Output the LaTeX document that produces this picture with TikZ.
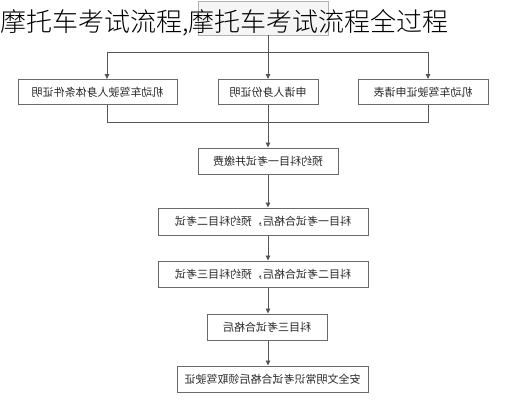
\documentclass[tikz,border=0pt]{standalone}
\usepackage{fontspec}
\usepackage{graphicx}
\setmainfont{Noto Sans CJK SC}
\newfontfamily\titlefont{Noto Sans CJK SC Light}
\usetikzlibrary{arrows.meta}
\definecolor{linegray}{HTML}{555555}
\definecolor{boxgray}{HTML}{6A6A6A}
\definecolor{txtgray}{HTML}{2A2A2A}
\tikzset{
  stepbox/.style={draw=boxgray,line width=1pt,inner sep=0pt,minimum height=25pt,
    text=txtgray,font=\fontsize{11}{13}\selectfont},
  link/.style={draw=linegray,line width=0.9pt},
  arr/.style={link,-{Triangle[length=5pt,width=4.5pt]}}
}
\newcommand{\mir}[1]{\reflectbox{#1}}
\begin{document}
\begin{tikzpicture}[x=1pt,y=-1pt]
\useasboundingbox[fill=white](0,0) rectangle (512,400);
% boxes
\node[draw=gray!60,fill=gray!8,line width=0.8pt,minimum width=130pt,minimum height=34pt] (top) at (263,18) {};
\node[stepbox,minimum width=159pt] (body) at (97.5,92) {\mir{机动车驾驶人身体条件证明}};
\node[stepbox,minimum width=100pt] (idcard) at (268,92) {\mir{申请人身份证明}};
\node[stepbox,minimum width=130pt] (form) at (423,92) {\mir{机动车驾驶证申请表}};
\node[stepbox,minimum width=140pt,minimum height=26pt] (one) at (268,161) {\mir{预约科目一考试并缴费}};
\node[stepbox,minimum width=210pt,minimum height=27pt] (two) at (263,221.5) {\mir{科目一考试合格后，预约科目二考试}};
\node[stepbox,minimum width=210pt,minimum height=26pt] (three) at (263,274) {\mir{科目二考试合格后，预约科目三考试}};
\node[stepbox,minimum width=120pt,minimum height=26pt] (pass) at (267,327) {\mir{科目三考试合格后}};
\node[stepbox,minimum width=191pt,minimum height=26pt] (licence) at (272.5,379) {\mir{安全文明常识考试合格后领取驾驶证}};
% connectors
\coordinate (spine) at (268,0);
\coordinate (bl) at (107,52);
\coordinate (br) at (428,52);
\coordinate (jl) at (107,122);
\coordinate (jr) at (428,122);
\draw[link] (spine |- top.south) -- (spine |- bl);
\draw[link] (bl) -- (br);
\draw[arr] (bl) -- (bl |- body.north);
\draw[arr] (spine |- bl) -- (spine |- idcard.north);
\draw[arr] (br) -- (br |- form.north);
\draw[link] (jl |- body.south) -- (jl) -- (jr) -- (jr |- form.south);
\draw[arr] (spine |- idcard.south) -- (spine |- one.north);
\draw[arr] (spine |- one.south) -- (spine |- two.north);
\draw[arr] (spine |- two.south) -- (spine |- three.north);
\draw[arr] (spine |- three.south) -- (spine |- pass.north);
\draw[arr] (spine |- pass.south) -- (spine |- licence.north);
% title
\node[anchor=base west,inner sep=0pt,font=\titlefont\fontsize{26}{30}\selectfont] (title) at (0,31) {摩托车考试流程,摩托车考试流程全过程};
\end{tikzpicture}
\end{document}
